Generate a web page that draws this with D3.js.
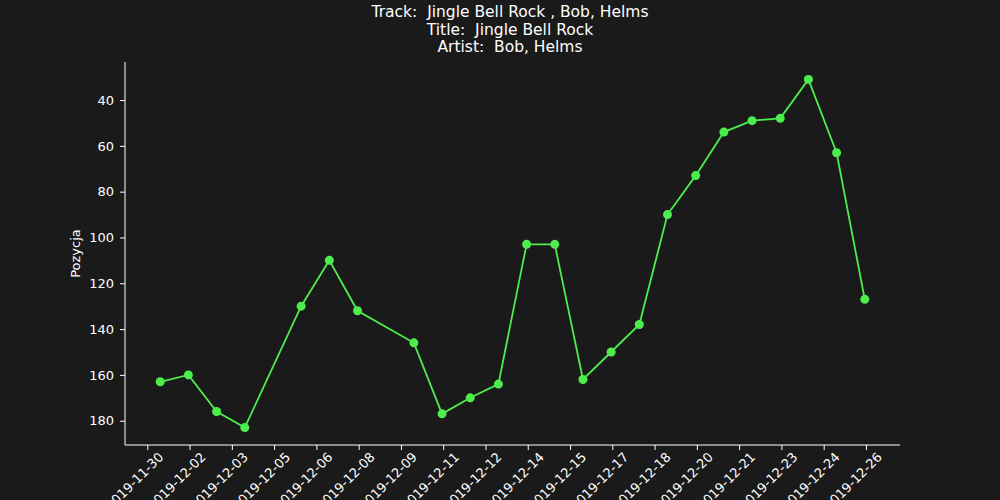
<!DOCTYPE html>
<html><head><meta charset="utf-8">
<script src="https://cdn.jsdelivr.net/npm/d3@7"></script>
<style>body{margin:0;background:#1a1a1a}text{font-family:"DejaVu Sans",sans-serif;white-space:pre}</style>
</head><body>
<script>
const dates = ['2019-11-30','2019-12-01','2019-12-02','2019-12-03','2019-12-05','2019-12-06','2019-12-07',
  '2019-12-09','2019-12-10','2019-12-11','2019-12-12','2019-12-13','2019-12-14','2019-12-15','2019-12-16',
  '2019-12-17','2019-12-18','2019-12-19','2019-12-20','2019-12-21','2019-12-22','2019-12-23','2019-12-24','2019-12-25'];
const positions = [163,160,176,183,130,110,132,146,177,170,164,103,103,162,150,138,90,73,54,49,48,31,63,127];
const tickLabels = ['2019-11-30','2019-12-02','2019-12-03','2019-12-05','2019-12-06','2019-12-08','2019-12-09',
  '2019-12-11','2019-12-12','2019-12-14','2019-12-15','2019-12-17','2019-12-18','2019-12-20','2019-12-21',
  '2019-12-23','2019-12-24','2019-12-26'];
const yTicks = [40,60,80,100,120,140,160,180];

const width = 1000, height = 500;
const margin = {top: 62, left: 125, bottom: 55, right: 100};
const parse = d3.utcParse('%Y-%m-%d');
// points are stamped ~11h into each day
const data = dates.map((d, i) => ({t: d3.utcHour.offset(parse(d), 11), v: positions[i]}));
const t0 = data[0].t, t1 = data[data.length - 1].t;
const pad = (t1 - t0) * 0.05;
const x = d3.scaleUtc().domain([new Date(+t0 - pad), new Date(+t1 + pad)])
  .range([margin.left, width - margin.right]);
const tickDates = tickLabels.map((l, i) => d3.utcHour.offset(parse('2019-11-30'), 36 * i));

const ext = d3.extent(positions), yp = (ext[1] - ext[0]) * 0.05;
const y = d3.scaleLinear().domain([ext[0] - yp, ext[1] + yp]).range([margin.top, height - margin.bottom]);

const svg = d3.select('body').append('svg').attr('width', width).attr('height', height);
svg.append('rect').attr('width', width).attr('height', height).attr('fill', '#1a1a1a');

const xg = svg.append('g').attr('transform', `translate(0,${height - margin.bottom})`)
  .call(d3.axisBottom(x).tickValues(tickDates).tickFormat((d, i) => tickLabels[i]).tickSizeOuter(0).tickSize(5).tickPadding(4));
xg.selectAll('text').attr('text-anchor', 'end').attr('transform', 'rotate(-45)').attr('dx', '0.2em').attr('dy', '0.9em');
const yg = svg.append('g').attr('transform', `translate(${margin.left},0)`)
  .call(d3.axisLeft(y).tickValues(yTicks).tickSizeOuter(0).tickSize(5).tickPadding(6));
[xg, yg].forEach(g => {
  g.selectAll('path,line').attr('stroke', '#ffffff');
  g.selectAll('text').attr('fill', '#ffffff').attr('font-size', 13);
});
yg.select('.domain').attr('d', `M0,${margin.top}V${height - margin.bottom}`);
xg.select('.domain').attr('d', `M${margin.left},0H${width - margin.right}`);

svg.append('text').attr('transform', `translate(80,${(margin.top + height - margin.bottom) / 2}) rotate(-90)`)
  .attr('text-anchor', 'middle').attr('fill', '#fff').attr('font-size', 13).text('Pozycja');

['Track:  Jingle Bell Rock , Bob, Helms', 'Title:  Jingle Bell Rock', 'Artist:  Bob, Helms'].forEach((s, i) =>
  svg.append('text').attr('x', 510).attr('y', 17 + i * 17.5).attr('text-anchor', 'middle')
    .attr('fill', '#fff').attr('font-size', 15.5).text(s));

const color = '#4ded4d';
svg.append('path').datum(data).attr('fill', 'none').attr('stroke', color).attr('stroke-width', 1.8)
  .attr('d', d3.line().x(d => x(d.t)).y(d => y(d.v)));
svg.append('g').selectAll('circle').data(data).enter().append('circle')
  .attr('cx', d => x(d.t)).attr('cy', d => y(d.v)).attr('r', 4.5).attr('fill', color);
</script>
</body></html>
